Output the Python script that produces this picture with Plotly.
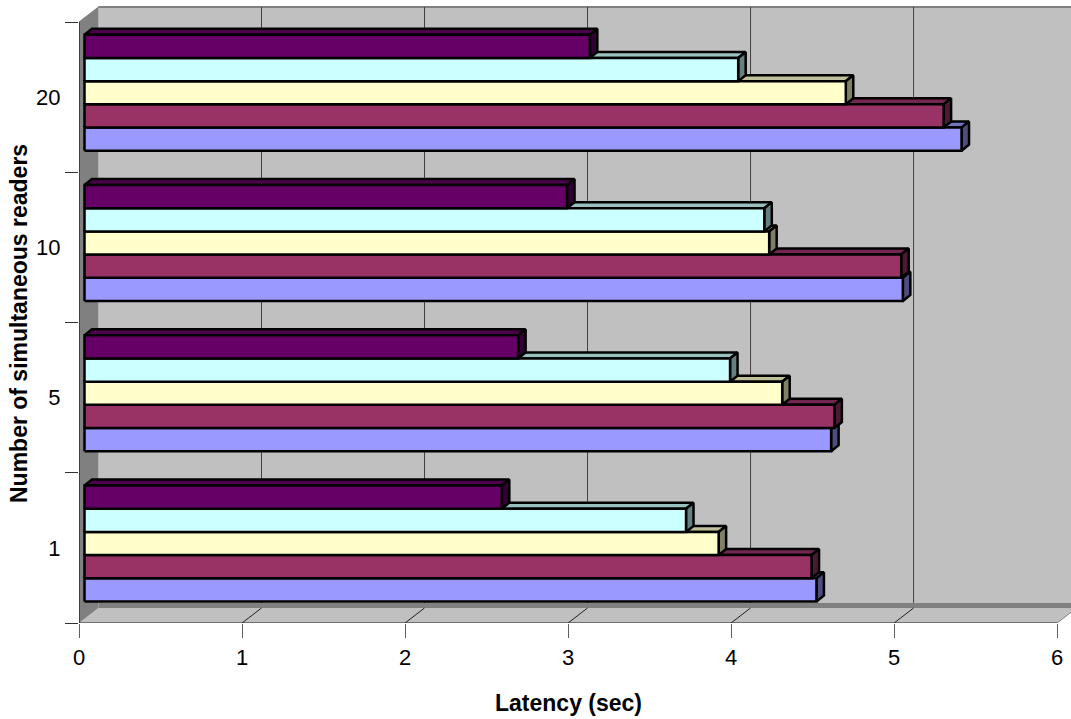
import plotly.graph_objects as go

# Reader counts and latency per storage configuration (seconds)
categories = ["1", "5", "10", "20"]
series_a = [4.49, 4.58, 5.02, 5.38]
series_b = [4.46, 4.60, 5.01, 5.27]
series_c = [3.89, 4.28, 4.20, 4.67]
series_d = [3.69, 3.96, 4.17, 4.01]
series_e = [2.56, 2.66, 2.96, 3.10]
x_ticks = [0, 1, 2, 3, 4, 5, 6]

# Front face, top face and side face colours, drawn from the bottom bar upward
series = [
    (series_a, "#9999FF", "#7373BF", "#4D4D80"),
    (series_b, "#993366", "#732650", "#4D1A33"),
    (series_c, "#FFFFCC", "#BFBF99", "#808066"),
    (series_d, "#CCFFFF", "#99BFBF", "#668080"),
    (series_e, "#660066", "#4D004D", "#330033"),
]

# Pixel scales of the two axes, used for the oblique projection
PX_X = 163.1
PX_Y = 150.25
WIDTH, HEIGHT = 1071, 719
LEFT, BOTTOM = 78.5, 96
PLOT_H = HEIGHT - BOTTOM

# Oblique depth of the chart box and of a single bar
box_dx, box_dy = 19.5 / PX_X, 15 / PX_Y
bar_dx, bar_dy = 7.5 / PX_X, 6 / PX_Y
bar_start = 5.5 / PX_X
bar_h = 23.2 / PX_Y
group_gap = 21.5 / PX_Y

fig = go.Figure()


def polygon_trace(xs, ys, color):
    fig.add_trace(go.Scatter(
        x=xs, y=ys, mode="lines", fill="toself", fillcolor=color,
        line=dict(color="#000000", width=2.5), hoverinfo="skip", showlegend=False,
    ))


for s, (values, front, top, side) in enumerate(series):
    fx, fy, tx, ty, sx, sy = [], [], [], [], [], []
    for g, v in enumerate(values):
        x0, x1 = bar_start, bar_start + v
        y0 = g + group_gap + s * bar_h
        y1 = y0 + bar_h
        fx += [x0, x1, x1, x0, x0, None]
        fy += [y0, y0, y1, y1, y0, None]
        tx += [x0, x0 + bar_dx, x1 + bar_dx, x1, x0, None]
        ty += [y1, y1 + bar_dy, y1 + bar_dy, y1, y1, None]
        sx += [x1, x1 + bar_dx, x1 + bar_dx, x1, x1, None]
        sy += [y0, y0 + bar_dy, y1 + bar_dy, y1, y0, None]
    polygon_trace(tx, ty, top)
    polygon_trace(sx, sy, side)
    polygon_trace(fx, fy, front)

n_groups = len(categories)
x_max = (WIDTH - LEFT) / PX_X
y_max = PLOT_H / PX_Y
GRID = "#404040"
EDGE = "#808080"
WALL = "#C0C0C0"

shapes = [
    # Back wall, floor, side wall and the dark strip where wall meets floor
    dict(type="rect", x0=box_dx, x1=x_max + 1, y0=box_dy, y1=n_groups + box_dy,
         fillcolor=WALL, line=dict(width=0), layer="below"),
    dict(type="path", path=f"M 0,0 L 6,0 L {6 + box_dx},{box_dy} L {box_dx},{box_dy} Z",
         fillcolor=WALL, line=dict(width=0), layer="below"),
    dict(type="path", path=f"M 0,0 L {box_dx},{box_dy} L {box_dx},{n_groups + box_dy} L 0,{n_groups} Z",
         fillcolor=EDGE, line=dict(width=0), layer="below"),
    dict(type="rect", x0=box_dx, x1=x_max + 1, y0=box_dy, y1=box_dy + 5 / PX_Y,
         fillcolor=EDGE, line=dict(width=0), layer="below"),
    dict(type="line", x0=box_dx, x1=x_max + 1, y0=n_groups + box_dy, y1=n_groups + box_dy,
         line=dict(color=EDGE, width=2), layer="below"),
    dict(type="line", x0=6, x1=6 + box_dx, y0=0, y1=box_dy,
         line=dict(color=EDGE, width=1), layer="below"),
    dict(type="line", x0=0, x1=box_dx, y0=n_groups, y1=n_groups + box_dy,
         line=dict(color=EDGE, width=1), layer="below"),
]
for t in x_ticks[1:-1]:
    shapes.append(dict(type="line", x0=t + box_dx, x1=t + box_dx,
                       y0=box_dy + 5 / PX_Y, y1=n_groups + box_dy,
                       line=dict(color=GRID, width=1), layer="below"))
    shapes.append(dict(type="line", x0=t, x1=t + box_dx, y0=0, y1=box_dy,
                       line=dict(color="#202020", width=1), layer="below"))
# Axis lines stop at the last tick and category boundary
shapes.append(dict(type="line", x0=0, x1=6, y0=0, y1=0, line=dict(color="#202020", width=1)))
shapes.append(dict(type="line", x0=0, x1=0, y0=0, y1=n_groups, line=dict(color="#000000", width=1)))

annotations = [
    dict(text="<b>Latency (sec)</b>", xref="paper", yref="paper",
         x=(568 - LEFT) / (WIDTH - LEFT), y=-(703 - PLOT_H) / PLOT_H,
         xanchor="center", yanchor="middle", showarrow=False,
         font=dict(size=23)),
    dict(text="<b>Number of simultaneous readers</b>", xref="paper", yref="paper",
         x=-(78.5 - 18.5) / (WIDTH - LEFT), y=(PLOT_H - 324) / PLOT_H,
         xanchor="center", yanchor="middle", textangle=-90, showarrow=False,
         font=dict(size=23)),
]

fig.update_layout(
    width=WIDTH, height=HEIGHT, autosize=False,
    margin=dict(l=LEFT, r=0, t=0, b=BOTTOM, pad=0),
    paper_bgcolor="#FFFFFF", plot_bgcolor="#FFFFFF",
    font=dict(family="Liberation Sans, Arial, sans-serif", size=22, color="#000000"),
    showlegend=False, shapes=shapes, annotations=annotations,
    xaxis=dict(
        range=[0, x_max], tickmode="array", tickvals=x_ticks, ticktext=[str(t) for t in x_ticks],
        ticks="outside", ticklen=14, tickwidth=1, tickcolor="#606060", ticklabelstandoff=1,
        showgrid=False, zeroline=False, showline=False, fixedrange=True,
    ),
    yaxis=dict(
        range=[0, y_max], tickmode="array",
        tickvals=[g + 0.5 for g in range(n_groups)], ticktext=categories,
        ticks="outside", ticklen=13, tickcolor="rgba(0,0,0,0)",
        minor=dict(tickmode="array", tickvals=list(range(n_groups + 1)),
                   ticks="outside", ticklen=13, tickwidth=1, tickcolor="#303030"),
        showgrid=False, zeroline=False, showline=False, fixedrange=True,
    ),
)

fig.write_html("out.html")
